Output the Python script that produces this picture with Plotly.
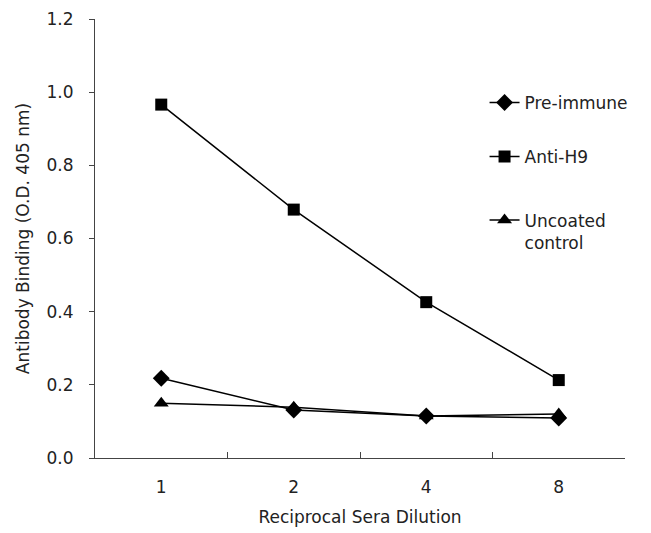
import plotly.graph_objects as go

categories = ["1", "2", "4", "8"]
pre_immune = [0.218, 0.131, 0.115, 0.109]
anti_h9 = [0.966, 0.679, 0.426, 0.213]
uncoated = [0.150, 0.139, 0.115, 0.120]
y_ticks = [0.0, 0.2, 0.4, 0.6, 0.8, 1.0, 1.2]

FONT = "DejaVu Sans"
AXC = "#444"

fig = go.Figure()
series = [
    ("Pre-immune", pre_immune, "diamond", 13, "legend"),
    ("Anti-H9", anti_h9, "square", 12, "legend2"),
    ("Uncoated<br>control", uncoated, "triangle-up", 13, "legend3"),
]
for name, vals, sym, sz, leg in series:
    fig.add_trace(go.Scatter(
        x=categories, y=vals, name=name, mode="lines+markers",
        line=dict(color="black", width=1.5),
        marker=dict(symbol=sym, size=sz, color="black"),
        legend=leg,
    ))

leg_common = dict(xanchor="left", font=dict(size=17, family=FONT, color="#222"),
                  bgcolor="rgba(0,0,0,0)", x=0.735)
fig.update_layout(
    width=651, height=533,
    margin=dict(l=95, r=26, t=19, b=75),
    paper_bgcolor="white", plot_bgcolor="white",
    font=dict(family=FONT, size=17, color="#222"),
    showlegend=True,
    legend=dict(y=0.8087, yanchor="middle", **leg_common),
    legend2=dict(y=0.6856, yanchor="middle", **leg_common),
    legend3=dict(y=0.516, yanchor="middle", valign="top", **leg_common),
)
fig.update_xaxes(
    type="category", categoryorder="array", categoryarray=categories,
    range=[-0.5, 3.5], tickson="boundaries", ticks="inside", ticklen=6,
    tickcolor=AXC, showline=True, linecolor=AXC, linewidth=1,
    showgrid=False, zeroline=False, ticklabelstandoff=14, automargin=False,
    title=dict(text="Reciprocal Sera Dilution", font=dict(size=17), standoff=14),
)
fig.update_yaxes(
    range=[0, 1.2], tickvals=y_ticks, tickformat=".1f", ticks="outside", ticklen=5,
    tickcolor=AXC, showline=True, linecolor=AXC, linewidth=1,
    showgrid=False, zeroline=False, ticklabelstandoff=12, automargin=False,
    title=dict(text="Antibody Binding (O.D. 405 nm)", font=dict(size=17), standoff=12),
)
fig.write_html("out.html", config={"displayModeBar": False},
               post_script="document.body.style.margin='0';")
